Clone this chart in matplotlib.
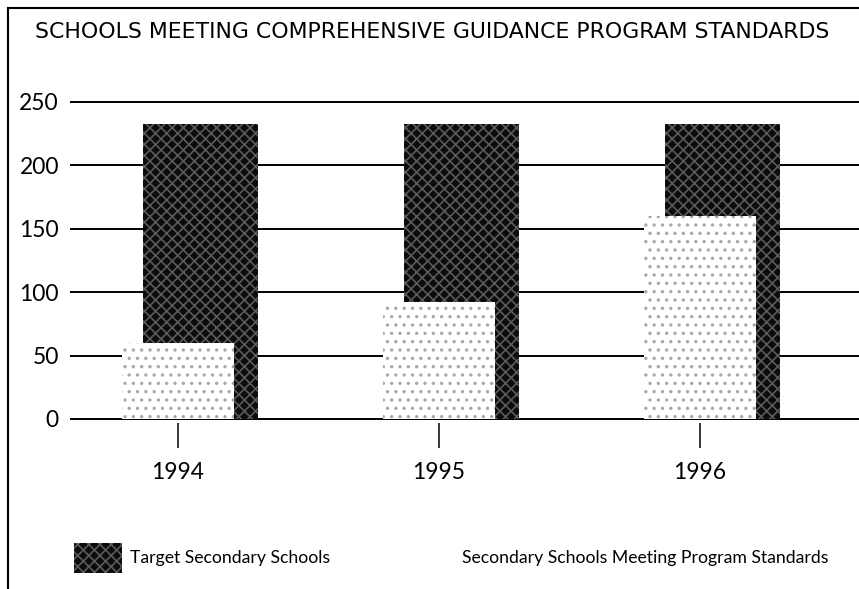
import matplotlib
matplotlib.use('Agg')
import matplotlib.pyplot as plt
from matplotlib.patches import Rectangle
from matplotlib.lines import Line2D
import numpy as np

# данные
years = ['1994', '1995', '1996']
target_schools = [233, 233, 233]
meeting_standards = [60, 92, 160]
y_ticks = [0, 50, 100, 150, 200, 250]

plt.rcParams['font.family'] = ['Lato', 'DejaVu Sans']
plt.rcParams['hatch.linewidth'] = 1.2

fig = plt.figure(figsize=(8.59, 5.89), dpi=100)
ax = fig.add_axes([70 / 859, 0.2822, 1 - 70 / 859, 0.5511])

x = np.arange(len(years))

# темные столбцы (цель) - сдвинуты вправо, позади
ax.bar(x + 0.086, target_schools, width=0.44, facecolor='#0c0c0c',
       edgecolor='#5a5a5a', hatch='xxx', linewidth=0, zorder=2)
# светлые столбцы (соответствуют стандартам) - спереди
ax.bar(x, meeting_standards, width=0.43, facecolor='white',
       edgecolor='#a8a8a8', hatch='..', linewidth=0, zorder=3)

ax.set_xlim(-0.414, 2.609)
ax.set_ylim(-3, 253)
ax.set_yticks(y_ticks)
ax.set_yticklabels([str(v) for v in y_ticks], fontsize=16.5)
ax.set_xticks(x)
ax.set_xticklabels(years, fontsize=16.5)
ax.tick_params(axis='y', length=0, pad=8)
ax.tick_params(axis='x', length=18, width=1.1, pad=10, direction='out')
ax.yaxis.grid(True, color='black', linewidth=1.4)
ax.set_axisbelow(True)
for s in ax.spines.values():
    s.set_visible(False)

# заголовок
fig.text(35 / 859, 1 - 32 / 589, 'SCHOOLS MEETING COMPREHENSIVE GUIDANCE PROGRAM STANDARDS',
         fontsize=15.8, va='center', ha='left', family=['DejaVu Sans'])

# рамка
fig.add_artist(Line2D([8 / 859, 8 / 859], [0, 1 - 8 / 589], color='black', linewidth=1.5))
fig.add_artist(Line2D([8 / 859, 1], [1 - 8 / 589, 1 - 8 / 589], color='black', linewidth=1.5))

# легенда
fig.add_artist(Rectangle((74 / 859, (589 - 573) / 589), 48 / 859, 30 / 589,
                         facecolor='#0c0c0c', edgecolor='#5a5a5a', hatch='xxx',
                         linewidth=0, transform=fig.transFigure))
fig.text(130 / 859, (589 - 558) / 589, 'Target Secondary Schools', fontsize=12.7, va='center')
fig.text(462 / 859, (589 - 558) / 589, 'Secondary Schools Meeting Program Standards',
         fontsize=12.7, va='center')

fig.savefig('out.png', dpi=100)
